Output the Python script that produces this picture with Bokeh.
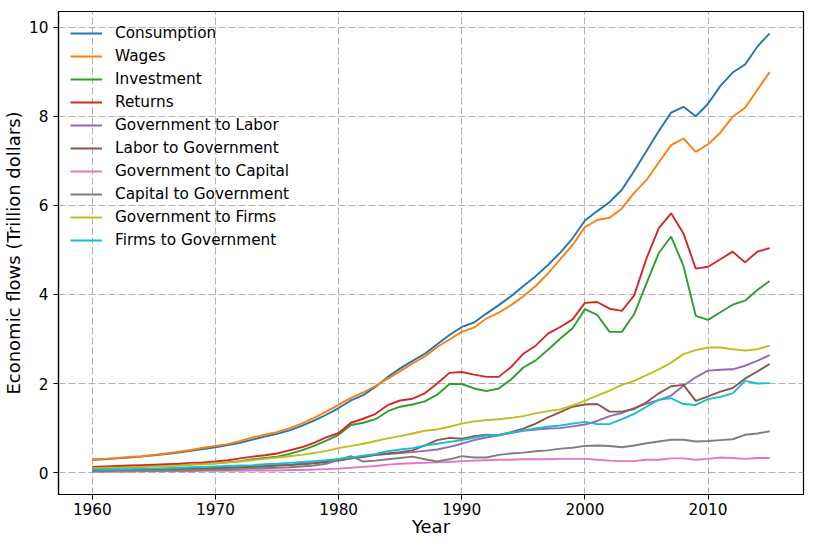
from bokeh.plotting import figure
from bokeh.models import Range1d, FixedTicker
from bokeh.embed import file_html
from bokeh.resources import INLINE

years = list(range(1960, 2016))

consumption = [0.29, 0.30, 0.32, 0.34, 0.36, 0.39, 0.42, 0.45, 0.49, 0.53, 0.57, 0.62, 0.67, 0.74, 0.81, 0.87,
               0.95, 1.05, 1.17, 1.30, 1.45, 1.62, 1.74, 1.93,
               2.15, 2.34, 2.51, 2.67, 2.88, 3.09, 3.27, 3.37, 3.57, 3.76, 3.96, 4.19, 4.41, 4.66, 4.94, 5.26,
               5.66, 5.87, 6.07, 6.35, 6.77, 7.22, 7.67, 8.08, 8.21, 8.00, 8.28, 8.68, 8.98, 9.16, 9.56, 9.86]
wages = [0.30, 0.31, 0.33, 0.35, 0.37, 0.40, 0.43, 0.47, 0.51, 0.56, 0.60, 0.64, 0.71, 0.79, 0.85, 0.91,
         1.00, 1.10, 1.23, 1.37, 1.52, 1.68, 1.80, 1.95,
         2.11, 2.28, 2.45, 2.61, 2.82, 2.99, 3.16, 3.26, 3.46, 3.59, 3.76, 3.96, 4.19, 4.47, 4.79, 5.11,
         5.51, 5.67, 5.72, 5.93, 6.28, 6.57, 6.96, 7.35, 7.50, 7.20, 7.37, 7.63, 7.99, 8.19, 8.59, 8.99]
investment = [0.11, 0.11, 0.12, 0.13, 0.14, 0.15, 0.16, 0.17, 0.18, 0.20, 0.21, 0.23, 0.26, 0.30, 0.33, 0.36,
              0.42, 0.50, 0.60, 0.72, 0.85, 1.07, 1.12, 1.20,
              1.38, 1.48, 1.53, 1.60, 1.75, 1.99, 1.99, 1.89, 1.83, 1.89, 2.09, 2.36, 2.52, 2.76, 3.01, 3.24,
              3.67, 3.54, 3.16, 3.16, 3.56, 4.25, 4.93, 5.30, 4.64, 3.52, 3.43, 3.60, 3.77, 3.86, 4.10, 4.30]
returns = [0.13, 0.14, 0.15, 0.16, 0.17, 0.18, 0.19, 0.20, 0.22, 0.23, 0.25, 0.28, 0.32, 0.36, 0.39, 0.43,
           0.50, 0.57, 0.67, 0.79, 0.89, 1.12, 1.21, 1.32,
           1.52, 1.62, 1.66, 1.78, 2.00, 2.24, 2.26, 2.20, 2.15, 2.15, 2.37, 2.67, 2.85, 3.12, 3.27, 3.44,
           3.81, 3.83, 3.68, 3.63, 3.98, 4.81, 5.49, 5.82, 5.37, 4.58, 4.62, 4.79, 4.96, 4.72, 4.96, 5.04]
gov_to_labor = [0.04, 0.04, 0.05, 0.05, 0.05, 0.06, 0.06, 0.07, 0.08, 0.09, 0.10, 0.11, 0.12, 0.13, 0.15, 0.17,
                0.18, 0.20, 0.22, 0.25, 0.28, 0.32, 0.36, 0.40,
                0.42, 0.44, 0.46, 0.49, 0.52, 0.58, 0.65, 0.73, 0.79, 0.84, 0.89, 0.94, 0.97, 0.99, 1.00, 1.04,
                1.08, 1.16, 1.27, 1.34, 1.45, 1.55, 1.63, 1.73, 1.95, 2.14, 2.29, 2.31, 2.32, 2.40, 2.51, 2.64]
labor_to_gov = [0.05, 0.05, 0.06, 0.06, 0.06, 0.07, 0.07, 0.08, 0.09, 0.09, 0.10, 0.11, 0.12, 0.13, 0.14, 0.16,
                0.17, 0.19, 0.21, 0.24, 0.27, 0.32, 0.35, 0.40,
                0.43, 0.46, 0.50, 0.61, 0.73, 0.78, 0.76, 0.82, 0.85, 0.84, 0.91, 0.99, 1.10, 1.24, 1.36, 1.48,
                1.53, 1.54, 1.37, 1.37, 1.43, 1.58, 1.78, 1.94, 1.97, 1.61, 1.71, 1.82, 1.90, 2.11, 2.27, 2.44]
gov_to_capital = [0.02, 0.02, 0.02, 0.02, 0.03, 0.03, 0.03, 0.03, 0.03, 0.04, 0.04, 0.04, 0.04, 0.05, 0.05, 0.05,
                  0.06, 0.06, 0.07, 0.08, 0.09, 0.11, 0.13, 0.15,
                  0.18, 0.20, 0.21, 0.22, 0.23, 0.24, 0.26, 0.27, 0.28, 0.29, 0.29, 0.30, 0.30, 0.30, 0.31, 0.31,
                  0.31, 0.29, 0.27, 0.26, 0.26, 0.29, 0.29, 0.32, 0.32, 0.29, 0.31, 0.34, 0.33, 0.31, 0.33, 0.33]
capital_to_gov = [0.03, 0.03, 0.04, 0.04, 0.04, 0.04, 0.05, 0.05, 0.05, 0.06, 0.06, 0.07, 0.08, 0.09, 0.10, 0.11,
                  0.12, 0.14, 0.16, 0.20, 0.29, 0.37, 0.25, 0.27,
                  0.30, 0.33, 0.36, 0.30, 0.25, 0.30, 0.37, 0.34, 0.34, 0.40, 0.43, 0.45, 0.48, 0.50, 0.54, 0.56,
                  0.60, 0.61, 0.60, 0.57, 0.61, 0.66, 0.70, 0.74, 0.74, 0.70, 0.71, 0.73, 0.75, 0.85, 0.88, 0.93]
gov_to_firms = [0.10, 0.11, 0.11, 0.12, 0.13, 0.14, 0.15, 0.16, 0.18, 0.19, 0.21, 0.23, 0.25, 0.28, 0.31, 0.34,
                0.37, 0.40, 0.44, 0.49, 0.55, 0.60, 0.65, 0.71,
                0.77, 0.82, 0.88, 0.94, 0.97, 1.03, 1.10, 1.15, 1.18, 1.20, 1.23, 1.27, 1.33, 1.38, 1.42, 1.51,
                1.61, 1.73, 1.84, 1.97, 2.06, 2.19, 2.32, 2.47, 2.66, 2.75, 2.81, 2.81, 2.77, 2.74, 2.77, 2.85]
firms_to_gov = [0.07, 0.07, 0.08, 0.08, 0.09, 0.09, 0.10, 0.11, 0.12, 0.13, 0.14, 0.15, 0.16, 0.17, 0.19, 0.20,
                0.22, 0.24, 0.26, 0.28, 0.31, 0.34, 0.38, 0.42,
                0.48, 0.52, 0.55, 0.61, 0.65, 0.69, 0.73, 0.78, 0.84, 0.85, 0.90, 0.95, 0.99, 1.03, 1.06, 1.10,
                1.14, 1.09, 1.09, 1.20, 1.32, 1.48, 1.64, 1.67, 1.54, 1.52, 1.65, 1.70, 1.78, 2.06, 2.00, 2.01]

series_names = ["Consumption", "Wages", "Investment", "Returns", "Government to Labor",
                "Labor to Government", "Government to Capital", "Capital to Government",
                "Government to Firms", "Firms to Government"]
series_values = [consumption, wages, investment, returns, gov_to_labor, labor_to_gov,
                 gov_to_capital, capital_to_gov, gov_to_firms, firms_to_gov]
colors = ["#1f77b4", "#ff7f0e", "#2ca02c", "#d62728", "#9467bd",
          "#8c564b", "#e377c2", "#7f7f7f", "#bcbd22", "#17becf"]

x_ticks = [1960, 1970, 1980, 1990, 2000, 2010]
y_ticks = [0, 2, 4, 6, 8, 10]

FONT = "DejaVu Sans"

p = figure(width=805, height=539, output_backend="svg", toolbar_location=None,
           x_range=Range1d(1957.25, 2017.75), y_range=Range1d(-0.49, 10.35),
           min_border_left=58, min_border_right=2, min_border_top=11, min_border_bottom=45)
p.background_fill_color = "white"
p.border_fill_color = "white"
p.outline_line_color = "black"
p.outline_line_width = 1.2

for name, vals, col in zip(series_names, series_values, colors):
    p.line(years, vals, line_color=col, line_width=1.9, legend_label=name)

for ax in (p.xaxis[0], p.yaxis[0]):
    ax.axis_line_color = "black"
    ax.axis_line_width = 1.2
    ax.major_tick_line_color = "black"
    ax.major_tick_out = 5
    ax.major_tick_in = 0
    ax.minor_tick_out = 0
    ax.minor_tick_in = 0
    ax.major_label_text_font = FONT
    ax.major_label_text_font_size = "15.3px"
    ax.major_label_text_color = "black"
    ax.axis_label_text_font = FONT
    ax.axis_label_text_font_size = "18px"
    ax.axis_label_text_font_style = "normal"
    ax.axis_label_text_color = "black"

p.xaxis[0].ticker = FixedTicker(ticks=x_ticks)
p.yaxis[0].ticker = FixedTicker(ticks=y_ticks)
p.xaxis[0].axis_label = "Year"
p.yaxis[0].axis_label = "Economic flows (Trillion dollars)"
p.xaxis[0].major_label_standoff = 3
p.yaxis[0].major_label_standoff = 5
p.xaxis[0].axis_label_standoff = -2
p.yaxis[0].axis_label_standoff = 2

for g in (p.xgrid[0], p.ygrid[0]):
    g.grid_line_color = "#b0b0b0"
    g.grid_line_width = 1
    g.grid_line_dash = "7 3"

leg = p.legend[0]
leg.location = "top_left"
leg.margin = 0
leg.padding = 12
leg.spacing = 3
leg.label_height = 20
leg.glyph_height = 20
leg.glyph_width = 32
leg.label_standoff = 13
leg.label_text_font = FONT
leg.label_text_font_size = "15.3px"
leg.label_text_color = "black"
leg.border_line_alpha = 0
leg.background_fill_alpha = 0

open("out.html", "w").write(file_html(p, INLINE))
